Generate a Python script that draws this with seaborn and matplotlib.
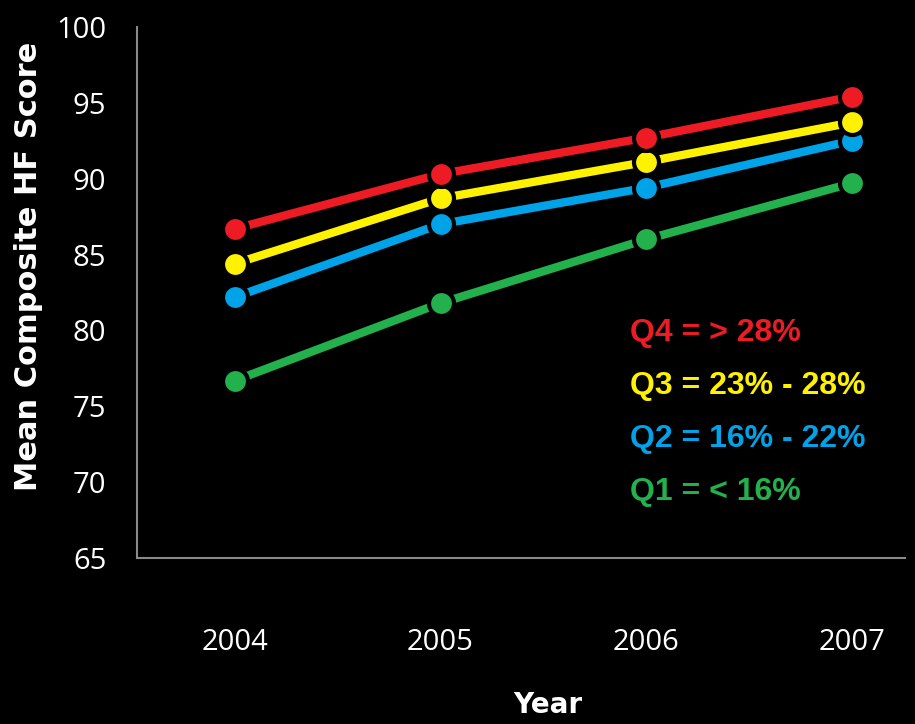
import matplotlib
matplotlib.use("Agg")
import matplotlib.pyplot as plt
import seaborn as sns
import pandas as pd

years = [2004, 2005, 2006, 2007]
q1 = [76.7, 81.8, 86.0, 89.7]
q2 = [82.2, 87.0, 89.4, 92.5]
q3 = [84.4, 88.7, 91.1, 93.7]
q4 = [86.7, 90.3, 92.7, 95.4]

groups = ["Q1", "Q2", "Q3", "Q4"]
labels = ["Q1 = < 16%", "Q2 = 16% - 22%", "Q3 = 23% - 28%", "Q4 = > 28%"]
colors = ["#22B14C", "#00A2E8", "#FFF200", "#ED1C24"]

df = pd.DataFrame({
    "Year": years * 4,
    "Score": q1 + q2 + q3 + q4,
    "Group": [g for g in groups for _ in years],
})

sns.set_theme(style="dark")
fig = plt.figure(figsize=(9.15, 7.24), dpi=100, facecolor="black")
ax = fig.add_axes([0.1497, 0.229, 0.8393, 0.734])
ax.set_facecolor("black")

sns.lineplot(data=df, x="Year", y="Score", hue="Group", hue_order=groups,
             palette=dict(zip(groups, colors)), marker="o", markersize=18,
             markeredgecolor="black", markeredgewidth=3, linewidth=6,
             legend=False, ax=ax)

ax.set_xlim(2003.524, 2007.258)
ax.set_ylim(65, 100)
ax.set_xticks(years)
ax.set_yticks(range(65, 101, 5))
ax.grid(False)

for side in ["top", "right"]:
    ax.spines[side].set_visible(False)
for side in ["left", "bottom"]:
    ax.spines[side].set_visible(True)
    ax.spines[side].set_color("#8a8a8a")
    ax.spines[side].set_linewidth(1.5)

ax.tick_params(axis="both", colors="white", length=0, labelsize=21)
ax.tick_params(axis="x", pad=50)
ax.tick_params(axis="y", pad=22)
for t in ax.get_xticklabels() + ax.get_yticklabels():
    t.set_family("Open Sans")
    t.set_color("white")

ax.set_xlabel("Year", color="white", fontsize=20, fontweight="bold",
              family="DejaVu Sans")
ax.xaxis.set_label_coords(0.535, -0.25)
ax.set_ylabel("Mean Composite HF Score", color="white", fontsize=22,
              fontweight="bold", family="DejaVu Sans")
ax.yaxis.set_label_coords(-0.122, 0.55)

# Quartile key, top entry first
for i, (lab, col) in enumerate(zip(labels[::-1], colors[::-1])):
    ax.text(0.642, 0.424 - i * 0.1, lab, transform=ax.transAxes, color=col,
            fontsize=23, fontweight="bold", family="Liberation Sans",
            va="center", ha="left")

fig.savefig("out.png", dpi=100, facecolor="black")
